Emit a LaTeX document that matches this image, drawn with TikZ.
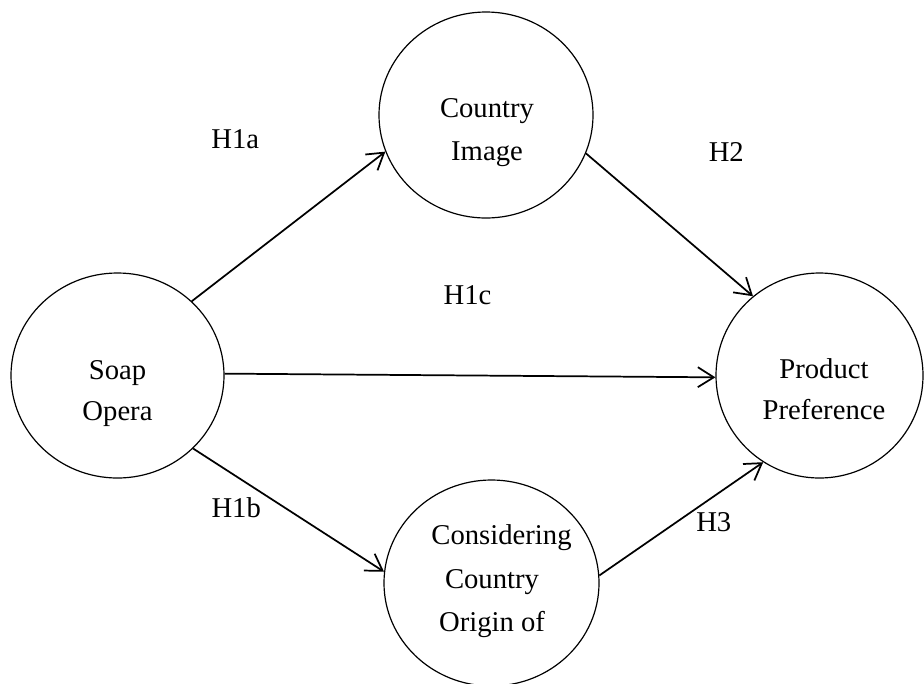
\documentclass[tikz,border=0pt]{standalone}
\usepackage{fontspec}
\setmainfont{Liberation Serif}
\usetikzlibrary{shapes.geometric,arrows.meta}
\tikzset{
  bubble/.style={draw, ellipse, line width=0.9pt, inner sep=0pt},
  txt/.style={anchor=base, inner sep=0pt, font=\fontsize{21.5}{26}\selectfont},
  conn/.style={line width=1.3pt, -{Straight Barb[length=12pt,width=15pt,line width=1.3pt]}}
}
\begin{document}
\begin{tikzpicture}[x=0.75pt,y=-0.75pt]
\useasboundingbox (0,0) rectangle (924,683);
% circles
\node[bubble, minimum width=213*0.75pt, minimum height=205*0.75pt] (soap) at (117.5,375.5) {};
\node[bubble, minimum width=214*0.75pt, minimum height=206*0.75pt] (ci) at (486,115) {};
\node[bubble, minimum width=215*0.75pt, minimum height=206*0.75pt] (cco) at (491.5,583) {};
\node[bubble, minimum width=207*0.75pt, minimum height=205*0.75pt] (pp) at (819.5,375.5) {};
% texts in circles
\node[txt] (soap1) at (117.5,379) {Soap};
\node[txt] (soap2) at (117.5,420) {Opera};
\node[txt] (ci1) at (487,117) {Country};
\node[txt] (ci2) at (487,160) {Image};
\node[txt] (cco1) at (501.5,544) {Considering};
\node[txt] (cco2) at (492,588) {Country};
\node[txt] (cco3) at (492,631) {Origin of};
\node[txt] (pp1) at (824,378) {Product};
\node[txt] (pp2) at (824,419) {Preference};
% hypothesis labels
\node[txt] (h1a) at (235.3,148.3) {H1a};
\node[txt] (h2) at (726.3,161.7) {H2};
\node[txt] (h1c) at (467.5,304) {H1c};
\node[txt] (h1b) at (236.2,517.3) {H1b};
\node[txt] (h3) at (713.8,531.7) {H3};
% connectors
\draw[conn] (soap.45.8) -- (ci.-160.6);
\draw[conn] (ci.-21.9) -- (pp.130.7);
\draw[conn] (soap.1) -- (pp.181.5);
\draw[conn] (soap.-44.5) -- (cco.174.9);
\draw[conn] (cco.4.3) -- (pp.237.7);
\end{tikzpicture}
\end{document}
